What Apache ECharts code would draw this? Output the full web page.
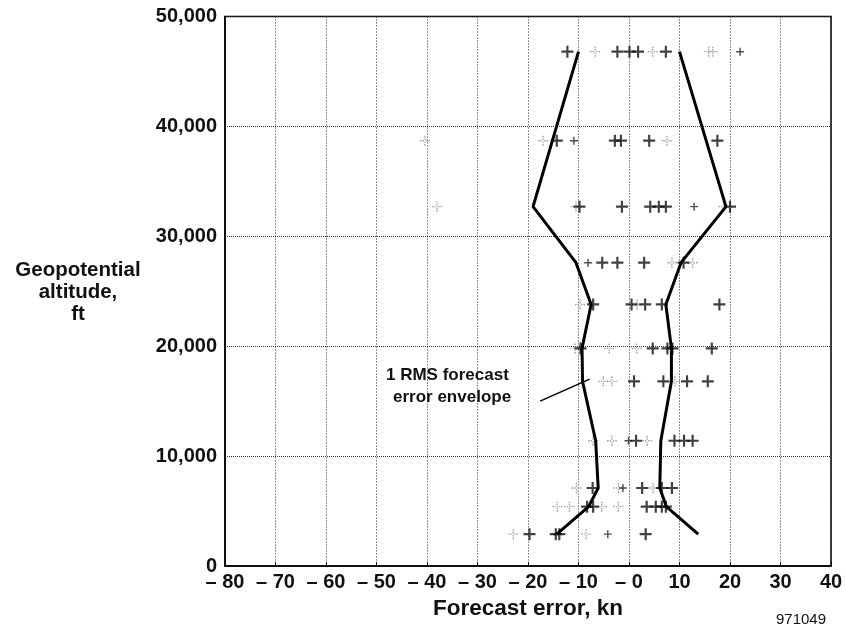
<!DOCTYPE html>
<html>
<head>
<meta charset="utf-8">
<script src="https://cdn.jsdelivr.net/npm/echarts@6/dist/echarts.min.js"></script>
<style>html,body{margin:0;padding:0;background:#fff;}#c{width:846px;height:631px;}</style>
</head>
<body>
<div id="c"></div>
<script>
// Altitude rows (ft) at which forecast errors were sampled
const altitudes = [46800, 38700, 32700, 27600, 23800, 19800, 16800, 11400, 7100, 5400, 2900];
// Forecast errors (kn) per altitude row, dark crosses
const darkErrors = [
  [-12.2, -2.3, 0.1, 1.8, 7.3],
  [-14.3, -2.8, -1.6, 4.0, 17.5],
  [-9.8, -1.4, 4.2, 5.9, 7.3, 20],
  [-5.3, -2.3, 3.0, 10.8],
  [-7.1, 0.5, 3.2, 6.5, 17.9],
  [-9.6, 4.7, 7.6, 8.6, 16.4],
  [1.0, 6.8, 11.5, 15.6],
  [1.4, 9.0, 10.9, 12.6],
  [-7.2, 2.6, 6.5, 8.5],
  [-8.3, -7.1, 3.5, 5.3, 6.5, 7.3],
  [-19.7, -14.5, -13.8, 3.3]
];
// small dark marks
const smallErrors = [[22], [-10.9], [12.9], [-8.1], [], [], [], [-0.1], [-1.2], [], [-4.2]];
// faint dotted crosses
const lightErrors = [
  [-6.7, 4.7, 15.8, 16.6],
  [-40.4, -17, 7.5],
  [-38, -10.5, 18.7],
  [8.5, 12.6],
  [-9.7, 1.6],
  [-10.7, -3.9, 1.5],
  [-5.1, -3.4, 9.1],
  [-7.1, -3.4, 3.6],
  [-10.4, -2.1, 4.8],
  [-14.2, -11.8, -5.4, -2.1],
  [-22.9, -8.5]
];
// 1 RMS forecast error envelope
const leftEnvelope = [[-10, 46800], [-19, 32700], [-10.5, 27600], [-7.5, 23800], [-9.3, 19800], [-9.2, 16800], [-6.6, 11400], [-6.1, 7100], [-8.0, 5400], [-14.3, 2900]];
const rightEnvelope = [[10, 46800], [19.2, 32700], [10.3, 27600], [7.3, 23800], [8.4, 19800], [8.4, 16800], [6.3, 11400], [6.1, 7100], [7.4, 5400], [13.7, 2900]];
// leader line for annotation
const leader = [[-17.6, 15000], [-7.8, 17000]];
const xTicks = { min: -80, max: 40, interval: 10 };
const yTicks = { min: 0, max: 50000, interval: 10000 };

function toPoints(lists) {
  const out = [];
  lists.forEach((row, i) => row.forEach(v => out.push([v, altitudes[i]])));
  return out;
}

const FONT = '"Liberation Sans", Arial, sans-serif';
const plusPath = 'path://M4.1,0h1.8v4.1h4.1v1.8h-4.1v4.1h-1.8v-4.1h-4.1v-1.8h4.1z';
const dotPlusPath = 'path://M4.3,0h1.4v1.6h-1.4z M4.3,2.6h1.4v1.4h-1.4z M4.3,6h1.4v1.4h-1.4z M4.3,8.4h1.4v1.6h-1.4z M0,4.3h1.6v1.4h-1.6z M2.6,4.3h1.4v1.4h-1.4z M6,4.3h1.4v1.4h-1.4z M8.4,4.3h1.6v1.4h-1.6z';

const chart = echarts.init(document.getElementById('c'), null, { renderer: 'canvas' });
chart.setOption({
  backgroundColor: '#fff',
  animation: false,
  grid: { left: 225, right: 15, top: 16.5, bottom: 65, show: true, borderColor: '#000', borderWidth: 1.5, backgroundColor: 'transparent' },
  xAxis: {
    type: 'value', min: xTicks.min, max: xTicks.max, interval: xTicks.interval,
    name: 'Forecast error, kn', nameLocation: 'middle', nameGap: 31,
    nameTextStyle: { fontFamily: FONT, fontWeight: 'bold', fontSize: 22.5, color: '#111' },
    axisLine: { show: true, onZero: false, lineStyle: { color: '#000', width: 1.5 } },
    axisTick: { show: true, inside: true, length: 4, lineStyle: { color: '#000' } },
    axisLabel: {
      fontFamily: FONT, fontWeight: 'bold', fontSize: 20, color: '#111', margin: 6,
      formatter: v => v <= 0 ? '\u2013 ' + Math.abs(v) : String(v)
    },
    splitLine: { show: true, lineStyle: { type: [1, 2], color: '#222', width: 1 } }
  },
  yAxis: {
    type: 'value', min: yTicks.min, max: yTicks.max, interval: yTicks.interval,
    axisLine: { show: true, onZero: false, lineStyle: { color: '#000', width: 1.5 } },
    axisTick: { show: false },
    axisLabel: {
      fontFamily: FONT, fontWeight: 'bold', fontSize: 20, color: '#111', margin: 8,
      formatter: v => v.toLocaleString('en-US')
    },
    splitLine: { show: true, lineStyle: { type: 'dotted', color: '#333', width: 1 } }
  },
  graphic: [
    { type: 'text', x: 78, y: 259, style: { text: 'Geopotential\naltitude,\nft', align: 'center', fontFamily: FONT, fontWeight: 'bold', fontSize: 20.5, lineHeight: 22, fill: '#111' } },
    { type: 'text', x: 386, y: 367, style: { text: '1 RMS forecast', fontFamily: FONT, fontWeight: 'bold', fontSize: 17, fill: '#111' } },
    { type: 'text', x: 393, y: 389, style: { text: 'error envelope', fontFamily: FONT, fontWeight: 'bold', fontSize: 17, fill: '#111' } },
    { type: 'text', right: 20, top: 612, style: { text: '971049', fontFamily: FONT, fontSize: 15, fill: '#111' } }
  ],
  series: [
    { type: 'scatter', data: toPoints(lightErrors), symbol: dotPlusPath, symbolSize: 10, itemStyle: { color: '#8a8a8a' }, z: 3 },
    { type: 'scatter', data: toPoints(smallErrors), symbol: plusPath, symbolSize: 8, itemStyle: { color: '#222' }, z: 4 },
    { type: 'scatter', data: toPoints(darkErrors), symbol: plusPath, symbolSize: 12, itemStyle: { color: '#111' }, z: 5 },
    { type: 'line', data: leftEnvelope, showSymbol: false, symbol: 'none', lineStyle: { color: '#000', width: 3 }, z: 6 },
    { type: 'line', data: rightEnvelope, showSymbol: false, symbol: 'none', lineStyle: { color: '#000', width: 3 }, z: 6 },
    { type: 'line', data: leader, showSymbol: false, symbol: 'none', lineStyle: { color: '#000', width: 1.5 }, z: 6 }
  ]
});
</script>
</body>
</html>
